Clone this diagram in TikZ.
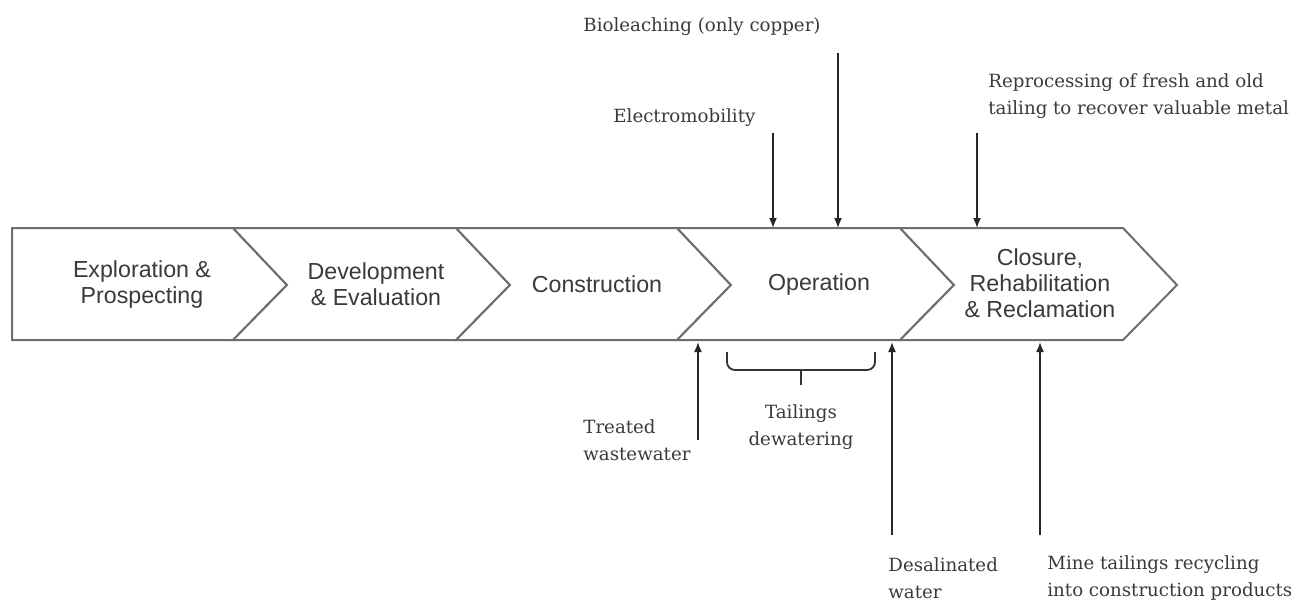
\documentclass[tikz,border=0pt]{standalone}
\usepackage{fontspec}
\setmainfont{Liberation Serif}
\setsansfont{Liberation Sans}
\newfontfamily\notefont{DejaVu Serif}
\usepackage{tikz}
\usetikzlibrary{arrows.meta,positioning}
\definecolor{StageGrey}{HTML}{6E6E6E}
\definecolor{TextGrey}{HTML}{3A3A3A}
\tikzset{
  stage/.style={draw=StageGrey,line width=1pt,line join=miter,fill=white},
  stagetext/.style={font=\sffamily\fontsize{11.6}{13}\selectfont,text=TextGrey,align=center,inner sep=0pt},
  notetext/.style={font=\notefont\fontsize{9.1}{13.5}\selectfont,text=TextGrey,align=left,inner sep=0pt},
  feed/.style={-{Latex[length=5pt,width=4pt]},line width=0.8pt,black!85},
  bracket/.style={draw=black!80,line width=0.9pt,rounded corners=4pt}
}
\begin{document}
\begin{tikzpicture}[x=0.5pt,y=-0.5pt]
  \useasboundingbox (0,0) rectangle (1303,601);

  % Stages
  \draw[stage] (12,228) -- (233,228) -- (287,285) -- (233,340) -- (12,340) -- cycle;
  \foreach \s/\e in {233/456,456/677,677/900,900/1123} {
    \draw[stage] (\s,228) -- (\e,228) -- ({\e+54},285) -- (\e,340) -- (\s,340) -- ({\s+54},285) -- cycle;
  }
  \node[stagetext] (explor) at (142,284) {Exploration \&\\Prospecting};
  \node[stagetext] (develop) at (376,284) {Development\\\& Evaluation};
  \node[stagetext] (construct) at (597,284) {Construction};
  \node[stagetext] (operate) at (819,284) {Operation};
  \node[stagetext] (closure) at (1040,283) {Closure,\\Rehabilitation\\\& Reclamation};

  % Inputs from above
  \node[notetext,anchor=west] (bioleach) at (583,27) {Bioleaching (only copper)};
  \node[notetext,anchor=west] (electro) at (613,118) {Electromobility};
  \node[notetext,anchor=west] (reproc) at (988,96) {Reprocessing of fresh and old\\tailing to recover valuable metal};
  \coordinate (bioTop) at (838,53);
  \coordinate (bioIn) at (838,228);
  \coordinate (elecTop) at (773,133);
  \coordinate (elecIn) at (773,228);
  \coordinate (repTop) at (977,133);
  \coordinate (repIn) at (977,228);
  \draw[feed] (bioTop) -- (bioIn);
  \draw[feed] (elecTop) -- (elecIn);
  \draw[feed] (repTop) -- (repIn);

  % Inputs from below
  \node[notetext,anchor=west] (treated) at (583,440) {Treated\\wastewater};
  \node[notetext,anchor=west] (desal) at (888,578) {Desalinated\\water};
  \node[notetext,anchor=west] (recycle) at (1047,578) {Mine tailings recycling\\into construction products};
  \coordinate (treatBot) at (698,440);
  \coordinate (treatIn) at (698,342);
  \coordinate (desalBot) at (892,535);
  \coordinate (desalIn) at (892,342);
  \coordinate (recBot) at (1040,535);
  \coordinate (recIn) at (1040,342);
  \draw[feed] (treatBot) -- (treatIn);
  \draw[feed] (desalBot) -- (desalIn);
  \draw[feed] (recBot) -- (recIn);

  % Tailings dewatering bracket
  \node[notetext,align=center] (dewater) at (801,427) {Tailings\\dewatering};
  \draw[bracket] (727,352) -- (727,370) -- (875,370) -- (875,352);
  \coordinate (brMid) at (801,370);
  \coordinate (brTick) at (801,385);
  \draw[line width=0.9pt,black!80] (brMid) -- (brTick);
\end{tikzpicture}
\end{document}
